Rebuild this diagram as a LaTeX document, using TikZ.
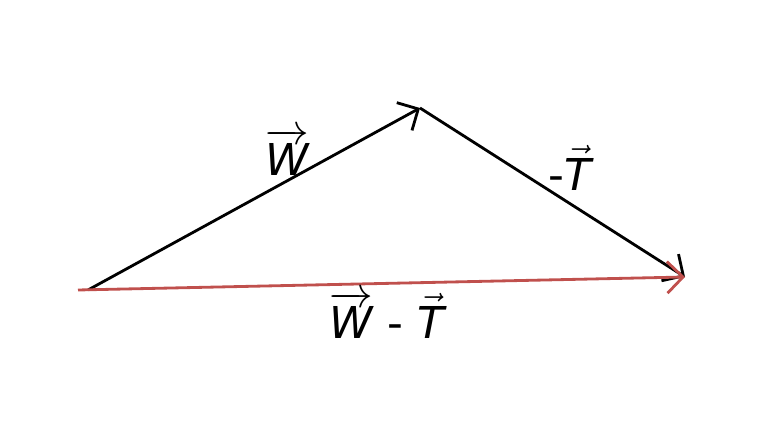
\documentclass[tikz,border=0pt]{standalone}
\usepackage{fontspec}
\setmainfont{DejaVu Sans}
\usetikzlibrary{arrows.meta}
\newcommand{\vw}{$\overrightarrow{\hbox{\itshape W}}$}
\newcommand{\vt}{$\vec{\hbox{\itshape T}}$}
\begin{document}
\begin{tikzpicture}[x=0.02cm,y=-0.02cm,
  vec/.style={line width=1.6pt,-{Straight Barb[length=9pt,width=18pt,line width=1.6pt]}},
  lbl/.style={font=\fontsize{25}{30}\selectfont}]
\useasboundingbox (0,0) rectangle (757,431);
\definecolor{redv}{RGB}{192,80,77}
\coordinate (A) at (88,290);
\coordinate (B) at (420,108);
\coordinate (C) at (685,277);
\coordinate (R) at (78,290);
\draw[vec] (A) -- (B);
\draw[vec] (B) -- (C);
\draw[vec,redv] (R) -- (C);
\node[lbl] (lw) at (287,152) {\vw};
\node[lbl] (lt) at (570,168) {-\vt};
\node[lbl] (lwt) at (387,315) {\vw{} - \vt};
\end{tikzpicture}
\end{document}
